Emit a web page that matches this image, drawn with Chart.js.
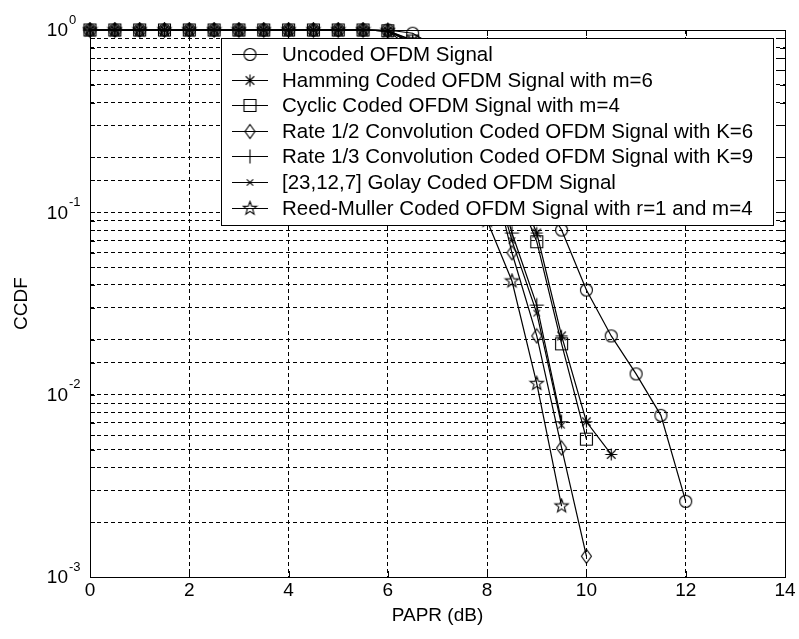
<!DOCTYPE html>
<html>
<head>
<meta charset="utf-8">
<title>CCDF of PAPR</title>
<script src="https://cdn.jsdelivr.net/npm/chart.js@4.4.0/dist/chart.umd.min.js"></script>
<style>
  html, body { margin: 0; padding: 0; background: #fff; }
  .wrap { width: 799px; height: 639px; position: relative; }
</style>
</head>
<body>
<div class="wrap"><canvas id="ccdf"></canvas></div>
<script>
'use strict';

// ************************* DATA **********************************
const paprDb = [0, 0.5, 1, 1.5, 2, 2.5, 3, 3.5, 4, 4.5, 5, 5.5, 6,
  6.5, 7, 7.5, 8, 8.5, 9, 9.5, 10, 10.5, 11, 11.5, 12];

const uncoded = [1, 1, 1, 1, 1, 1, 1, 1, 1, 1, 1, 1, 1,
  0.96, 0.8, 0.6, 0.4, 0.235, 0.135, 0.08, 0.0375, 0.021, 0.013, 0.0077, 0.0026];
const hamming = [1, 1, 1, 1, 1, 1, 1, 1, 1, 1, 1, 1, 0.99,
  0.88, 0.72, 0.5, 0.3, 0.16, 0.077, 0.021, 0.0071, 0.0047, null, null, null];
const cyclic = [1, 1, 1, 1, 1, 1, 1, 1, 1, 1, 1, 1, 0.99,
  0.87, 0.7, 0.48, 0.29, 0.15, 0.069, 0.019, 0.0057, null, null, null, null];
const convHalf = [1, 1, 1, 1, 1, 1, 1, 1, 1, 1, 1, 1, 0.99,
  0.84, 0.63, 0.41, 0.22, 0.06, 0.021, 0.0051, 0.0013, null, null, null, null];
const convThird = [1, 1, 1, 1, 1, 1, 1, 1, 1, 1, 1, 1, 0.99,
  0.85, 0.64, 0.42, 0.23, 0.077, 0.031, 0.0071, null, null, null, null, null];
const golay = [1, 1, 1, 1, 1, 1, 1, 1, 1, 1, 1, 1, 0.99,
  0.84, 0.62, 0.4, 0.21, 0.07, 0.028, 0.0068, null, null, null, null, null];
const reedMuller = [1, 1, 1, 1, 1, 1, 1, 1, 1, 1, 1, 1, 0.99,
  0.78, 0.5, 0.25, 0.09, 0.042, 0.0115, 0.00245, null, null, null, null, null];

const seriesLabels = [
  'Uncoded OFDM Signal',
  'Hamming Coded OFDM Signal with m=6',
  'Cyclic Coded OFDM Signal with m=4',
  'Rate 1/2 Convolution Coded OFDM Signal with K=6',
  'Rate 1/3 Convolution Coded OFDM Signal with K=9',
  '[23,12,7] Golay Coded OFDM Signal',
  'Reed-Muller Coded OFDM Signal with r=1 and m=4'
];
const decadeTicks = [1, 0.1, 0.01, 0.001];
const xTicks = [0, 2, 4, 6, 8, 10, 12, 14];

const FONT = "'Liberation Sans', Arial, sans-serif";

// ************************ MARKERS ********************************
function makeMarker(draw) {
  const c = document.createElement('canvas');
  c.width = 17;
  c.height = 17;
  const g = c.getContext('2d');
  g.strokeStyle = '#000';
  g.lineWidth = 1.1;
  g.translate(8.5, 8.5);
  g.beginPath();
  draw(g);
  g.stroke();
  return c;
}
function spokes(g, r, angles) {
  for (let a of angles) {
    const t = a * Math.PI / 180;
    g.moveTo(r * Math.cos(t), r * Math.sin(t));
    g.lineTo(-r * Math.cos(t), -r * Math.sin(t));
  }
}
const circleMark = makeMarker(g => g.arc(0, 0, 6, 0, Math.PI * 2));
const asteriskMark = makeMarker(g => spokes(g, 6, [0, 45, 90, 135]));
const squareMark = makeMarker(g => g.rect(-6, -6, 12, 12));
const diamondMark = makeMarker(g => {
  g.moveTo(0, -7); g.lineTo(5, 0); g.lineTo(0, 7); g.lineTo(-5, 0); g.closePath();
});
const plusMark = makeMarker(g => spokes(g, 7, [0, 90]));
const xMark = makeMarker(g => spokes(g, 4.5, [45, 135]));
const starMark = makeMarker(g => {
  for (let i = 0; i < 10; i++) {
    const r = i % 2 === 0 ? 7 : 2.9;
    const t = -Math.PI / 2 + i * Math.PI / 5;
    if (i === 0) g.moveTo(r * Math.cos(t), r * Math.sin(t));
    else g.lineTo(r * Math.cos(t), r * Math.sin(t));
  }
  g.closePath();
});

const seriesValues = [uncoded, hamming, cyclic, convHalf, convThird, golay, reedMuller];
const seriesMarks = [circleMark, asteriskMark, squareMark, diamondMark, plusMark, xMark, starMark];

// ************************ PLUGINS ********************************
// axes box, inward ticks and the 10^n labels
const axesBox = {
  id: 'axesBox',
  beforeDatasetsDraw(chart) {
    const ctx = chart.ctx;
    const a = chart.chartArea;
    const xs = chart.scales.x;
    const ys = chart.scales.y;
    ctx.save();
    ctx.strokeStyle = '#000';
    ctx.lineWidth = 1;
    ctx.beginPath();
    for (let v of xTicks) {
      const px = Math.round(xs.getPixelForValue(v)) + 0.5;
      ctx.moveTo(px, a.bottom); ctx.lineTo(px, a.bottom - 6);
      ctx.moveTo(px, a.top); ctx.lineTo(px, a.top + 6);
    }
    for (let t of ys.ticks) {
      const py = Math.round(ys.getPixelForValue(t.value)) + 0.5;
      ctx.moveTo(a.left, py); ctx.lineTo(a.left + 5, py);
      ctx.moveTo(a.right, py); ctx.lineTo(a.right - 5, py);
    }
    ctx.stroke();
    ctx.strokeRect(Math.round(a.left) + 0.5, Math.round(a.top) + 0.5,
      Math.round(a.right - a.left), Math.round(a.bottom - a.top));
    ctx.restore();
  },
  afterDraw(chart) {
    const ctx = chart.ctx;
    const ys = chart.scales.y;
    ctx.save();
    ctx.fillStyle = '#000';
    ctx.textBaseline = 'middle';
    for (let v of decadeTicks) {
      const py = ys.getPixelForValue(v);
      ctx.font = '19px ' + FONT;
      ctx.textAlign = 'right';
      ctx.fillText('10', 68, py + 1);
      ctx.font = '13px ' + FONT;
      ctx.textAlign = 'left';
      ctx.fillText(String(Math.round(Math.log10(v))), 69, py - 10);
    }
    ctx.restore();
  }
};

// boxed legend drawn over the curves
const boxLegend = {
  id: 'boxLegend',
  afterDatasetsDraw(chart) {
    const ctx = chart.ctx;
    ctx.save();
    ctx.fillStyle = '#fff';
    ctx.fillRect(221, 38, 552, 187);
    ctx.strokeStyle = '#000';
    ctx.lineWidth = 1;
    ctx.strokeRect(221.5, 38.5, 552, 187);
    ctx.font = '20.5px ' + FONT;
    ctx.textBaseline = 'middle';
    ctx.textAlign = 'left';
    chart.data.datasets.forEach((ds, i) => {
      const y = Math.round(54 + i * 25.6) + 0.5;
      ctx.beginPath();
      ctx.moveTo(232, y);
      ctx.lineTo(268, y);
      ctx.stroke();
      ctx.drawImage(ds.pointStyle, 250 - 8.5, y - 8.5);
      ctx.fillStyle = '#000';
      ctx.fillText(ds.label, 282, y + 1);
    });
    ctx.restore();
  }
};

// ************************ CHART ********************************
const datasets = seriesLabels.map((label, i) => ({
  label: label,
  data: paprDb.map((x, j) => ({ x: x, y: seriesValues[i][j] })),
  borderColor: '#000',
  borderWidth: 1.2,
  pointStyle: seriesMarks[i],
  pointRadius: 6,
  pointHoverRadius: 6,
  tension: 0,
  spanGaps: false,
  clip: false
}));

new Chart(document.getElementById('ccdf'), {
  type: 'line',
  data: { datasets: datasets },
  options: {
    responsive: true,
    maintainAspectRatio: false,
    animation: false,
    events: [],
    layout: { padding: { top: 30, right: 14, left: 0, bottom: 0 } },
    plugins: {
      legend: { display: false },
      tooltip: { enabled: false }
    },
    scales: {
      x: {
        type: 'linear',
        min: 0,
        max: 14,
        afterFit: scale => { scale.height = 62; },
        ticks: {
          stepSize: 2,
          color: '#000',
          padding: 2,
          maxRotation: 0,
          font: { family: FONT, size: 19 }
        },
        grid: { color: '#000', lineWidth: 1, drawTicks: false },
        border: { display: false, dash: [4, 3] },
        title: {
          display: true,
          text: 'PAPR (dB)',
          color: '#000',
          font: { family: FONT, size: 19 },
          padding: { top: 0, bottom: 12 }
        }
      },
      y: {
        type: 'logarithmic',
        min: 0.001,
        max: 1,
        afterFit: scale => { scale.width = 90; },
        ticks: { display: false, autoSkip: false },
        grid: { color: '#000', lineWidth: 1, drawTicks: false },
        border: { display: false, dash: [4, 3] },
        title: {
          display: true,
          text: 'CCDF',
          color: '#000',
          font: { family: FONT, size: 19 },
          padding: { top: 10, bottom: 0 }
        }
      }
    }
  },
  plugins: [axesBox, boxLegend]
});
</script>
</body>
</html>
